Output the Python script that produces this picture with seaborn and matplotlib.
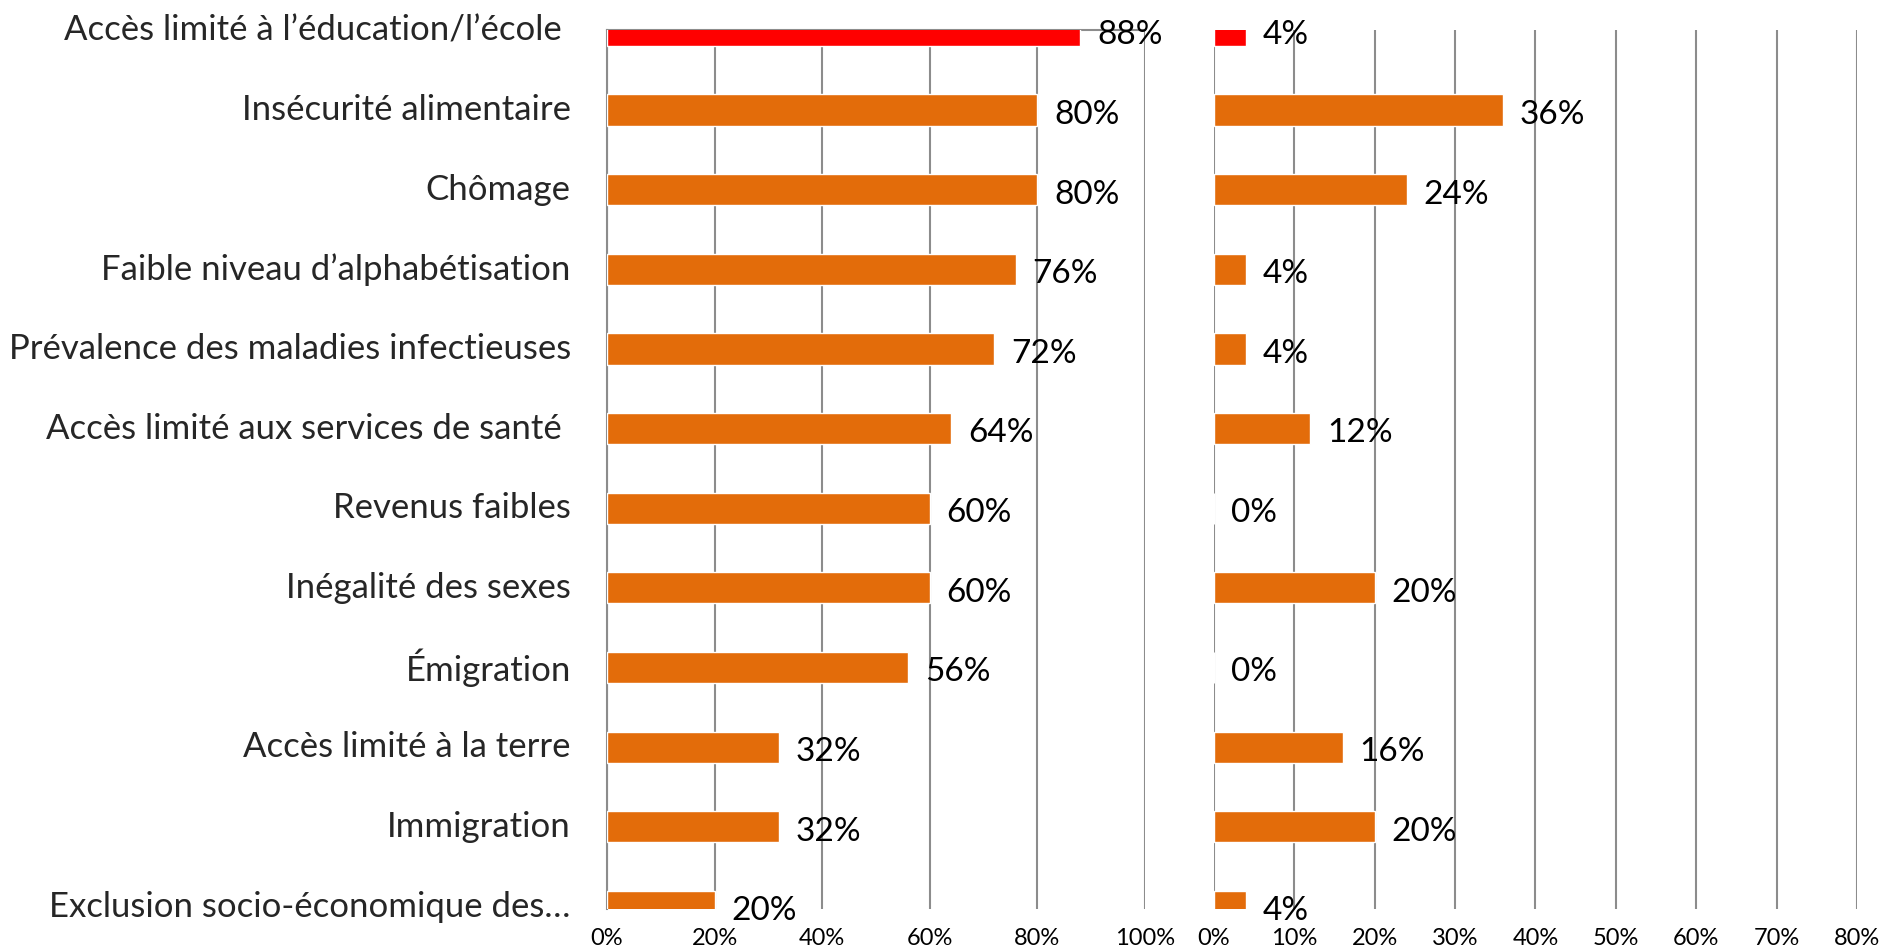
'''
Deux panneaux de barres horizontales : part des répondants par problème.
'''
import matplotlib
matplotlib.use('Agg')
import matplotlib.pyplot as plt
import matplotlib.transforms as mtransforms
import seaborn as sns

categories = [
    'Accès limité à l’éducation/l’école ',
    'Insécurité alimentaire',
    'Chômage',
    'Faible niveau d’alphabétisation',
    'Prévalence des maladies infectieuses',
    'Accès limité aux services de santé ',
    'Revenus faibles',
    'Inégalité des sexes',
    'Émigration',
    'Accès limité à la terre',
    'Immigration',
    'Exclusion socio-économique des…',
]
left_values = [0.88, 0.80, 0.80, 0.76, 0.72, 0.64, 0.60, 0.60, 0.56, 0.32, 0.32, 0.20]
right_values = [0.04, 0.36, 0.24, 0.04, 0.04, 0.12, 0.00, 0.20, 0.00, 0.16, 0.20, 0.04]
left_ticks = [0, 0.2, 0.4, 0.6, 0.8, 1.0]
right_ticks = [0, 0.1, 0.2, 0.3, 0.4, 0.5, 0.6, 0.7, 0.8]

ORANGE = '#E36C0A'
RED = '#FF0000'
GRID = '#8C8C8C'
bar_colors = [RED] + [ORANGE] * (len(categories) - 1)

sns.set_theme(style='white')
plt.rcParams['font.family'] = ['Lato', 'DejaVu Sans']
plt.rcParams['text.color'] = 'black'


def draw_panel(ax, values, ticks, xmax):
    sns.barplot(y=categories, x=values, hue=categories, palette=bar_colors,
                legend=False, width=0.39, saturation=1, ax=ax, zorder=3)
    ax.set_xlim(0, xmax)
    # la première et la dernière barre sont coupées par le cadre
    ax.set_ylim(11.03, -0.005)
    ax.set_xticks(ticks)
    ax.set_xticklabels([f'{t:.0%}' for t in ticks], fontsize=17)
    ax.xaxis.grid(True, color=GRID, linewidth=1.5)
    ax.yaxis.grid(False)
    ax.set_axisbelow(True)
    ax.tick_params(axis='x', length=0, pad=14, colors='black')
    ax.tick_params(axis='y', length=0)
    ax.set_xlabel('')
    ax.set_ylabel('')
    for spine in ax.spines.values():
        spine.set_visible(False)
    # étiquettes de valeur à droite des barres
    for c in ax.containers:
        labels = ax.bar_label(c, fmt='{:.0%}', padding=12, fontsize=24)
        for t in labels:
            t.xyann = (12, -3.5)
            t.set_annotation_clip(False)
            t.set_clip_on(False)


fig = plt.figure(figsize=(18.85, 9.51), dpi=100)
ax1 = fig.add_axes([0.322, 0.0442, 0.2854, 0.9243])
ax2 = fig.add_axes([0.644, 0.0442, 0.3411, 0.9243])

draw_panel(ax1, left_values, left_ticks, 1.0)
ax1.spines['left'].set_visible(True)
ax1.spines['top'].set_visible(True)
ax1.spines['left'].set_color(GRID)
ax1.spines['top'].set_color(GRID)
ax1.spines['left'].set_linewidth(1.5)
ax1.spines['top'].set_linewidth(1.5)
ax1.tick_params(axis='y', pad=26, labelsize=25)
# les libellés sont un peu au-dessus du centre des barres
shift = mtransforms.ScaledTranslation(0, 3 / 100, fig.dpi_scale_trans)
for lab in ax1.get_yticklabels():
    lab.set_transform(lab.get_transform() + shift)

draw_panel(ax2, right_values, right_ticks, 0.8)
ax2.set_yticklabels([])

fig.savefig('out.png', dpi=100)
